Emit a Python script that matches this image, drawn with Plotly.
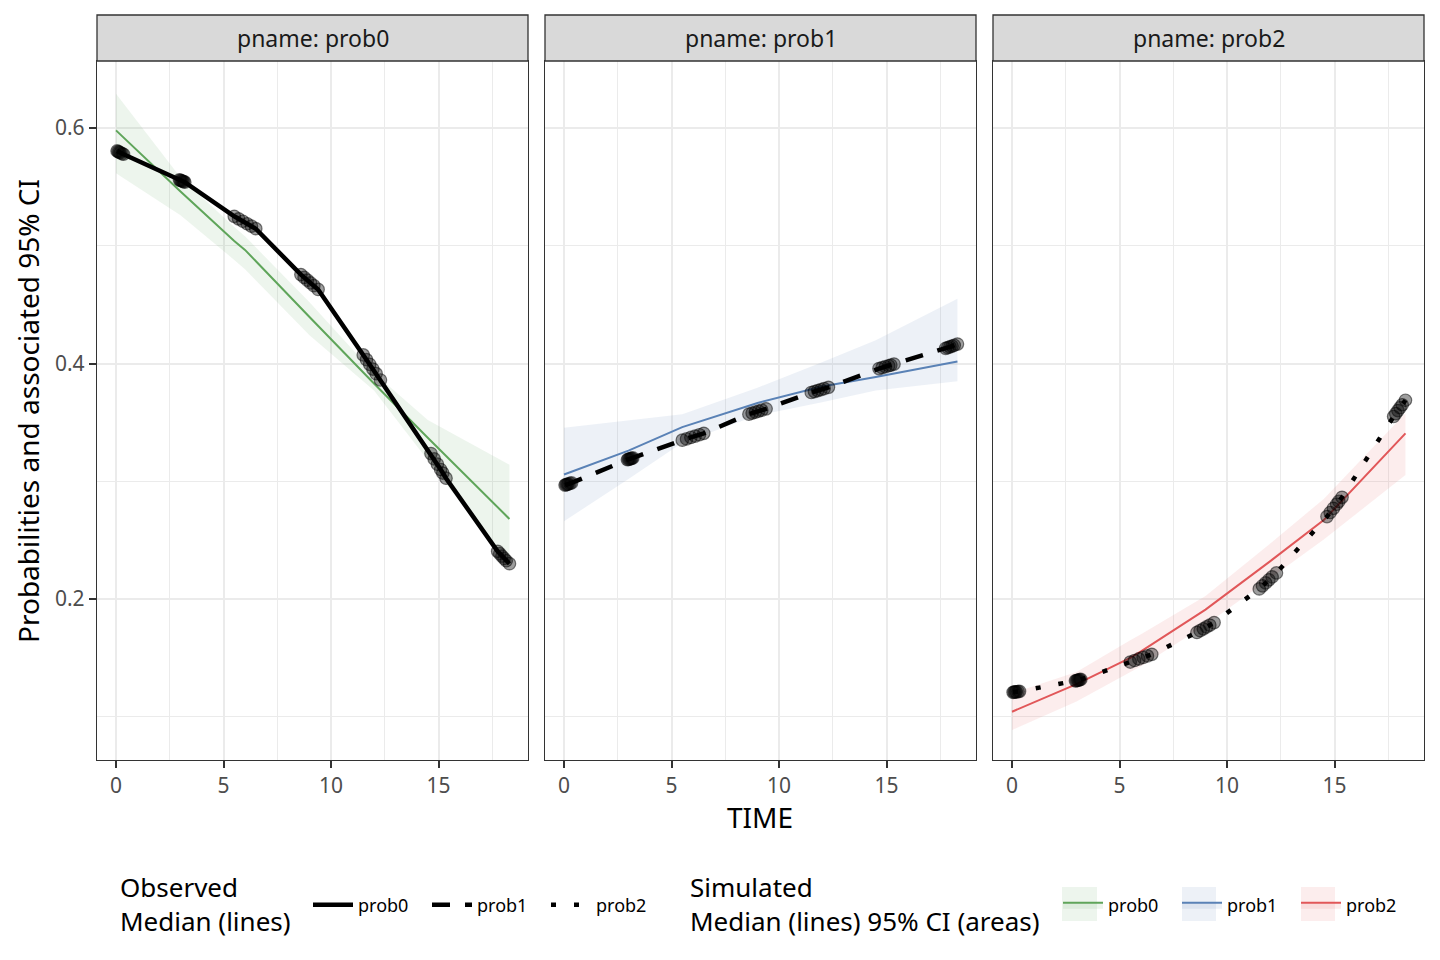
import plotly.graph_objects as go

# ─── Datos ───────────────────────────────────────────────────────────────────

panels = ["prob0", "prob1", "prob2"]

# puntos observados (7 visitas, varios sujetos por visita)
obs_time = [0.05, 0.1, 0.15, 0.2, 0.28, 0.35,
            2.95, 3.0, 3.05, 3.1, 3.15, 3.2,
            5.5, 5.7, 5.9, 6.1, 6.3, 6.5,
            8.6, 8.75, 8.9, 9.05, 9.2, 9.4,
            11.5, 11.65, 11.8, 11.95, 12.1, 12.3,
            14.65, 14.8, 14.95, 15.1, 15.2, 15.35,
            17.75, 17.85, 17.95, 18.05, 18.15, 18.3]

obs_prob0 = [0.5805, 0.580, 0.5795, 0.579, 0.5783, 0.5777,
             0.556, 0.5556, 0.5552, 0.5548, 0.5544, 0.554,
             0.525, 0.5229, 0.5208, 0.5187, 0.5166, 0.5145,
             0.4755, 0.4731, 0.4708, 0.4684, 0.4661, 0.4629,
             0.4073, 0.4033, 0.3993, 0.3953, 0.3914, 0.386,
             0.3235, 0.319, 0.3145, 0.310, 0.307, 0.3026,
             0.2405, 0.2385, 0.2365, 0.2345, 0.2325, 0.230]

obs_prob1 = [0.2968, 0.2971, 0.2974, 0.2977, 0.2982, 0.2986,
             0.3183, 0.3186, 0.3189, 0.3192, 0.3195, 0.3198,
             0.3349, 0.336, 0.3372, 0.3384, 0.3395, 0.3407,
             0.357, 0.3579, 0.3587, 0.3596, 0.3604, 0.3615,
             0.3754, 0.3762, 0.377, 0.3778, 0.3787, 0.3798,
             0.3957, 0.3965, 0.3973, 0.3981, 0.3987, 0.3995,
             0.4129, 0.4135, 0.4142, 0.4148, 0.4155, 0.4165]

obs_prob2 = [0.1208, 0.121, 0.1211, 0.1212, 0.1214, 0.1216,
             0.1305, 0.1307, 0.131, 0.1312, 0.1315, 0.1317,
             0.1465, 0.1478, 0.1491, 0.1504, 0.1517, 0.153,
             0.1716, 0.1731, 0.1747, 0.1763, 0.1779, 0.180,
             0.2086, 0.2112, 0.2137, 0.2163, 0.2188, 0.2222,
             0.270, 0.2735, 0.277, 0.2805, 0.2829, 0.2864,
             0.355, 0.3575, 0.360, 0.3625, 0.365, 0.3688]

# simulaciones: mediana e IC 95%
sim_time = [0, 3, 5.5, 6, 9, 12, 14.5, 18.3]

sim_med_prob0 = [0.598, 0.546, 0.504, 0.4965, 0.4395, 0.383, 0.337, 0.268]
sim_lo_prob0 = [0.5615, 0.526, 0.488, 0.480, 0.424, 0.377, 0.318, 0.228]
sim_hi_prob0 = [0.629, 0.558, 0.516, 0.508, 0.452, 0.392, 0.352, 0.314]

sim_med_prob1 = [0.3057, 0.326, 0.346, 0.349, 0.3665, 0.3805, 0.3885, 0.4018]
sim_lo_prob1 = [0.266, 0.302, 0.3327, 0.336, 0.356, 0.367, 0.377, 0.385]
sim_hi_prob1 = [0.3454, 0.3516, 0.357, 0.360, 0.3795, 0.401, 0.4197, 0.455]

sim_med_prob2 = [0.1043, 0.1277, 0.150, 0.1555, 0.191, 0.232, 0.267, 0.3407]
sim_lo_prob2 = [0.0887, 0.113, 0.138, 0.143, 0.178, 0.2175, 0.2505, 0.3053]
sim_hi_prob2 = [0.120, 0.138, 0.165, 0.170, 0.2025, 0.247, 0.285, 0.3577]

x_ticks = [0, 5, 10, 15]
y_ticks = [0.2, 0.4, 0.6]

# ─── Estilos ─────────────────────────────────────────────────────────────────

COLORS = {"prob0": "#5FA55A", "prob1": "#5A82B6", "prob2": "#E15759"}
FILLS = {"prob0": "rgba(95,165,90,0.11)",
         "prob1": "rgba(90,130,182,0.11)",
         "prob2": "rgba(225,87,89,0.11)"}
DASHES = {"prob0": "solid", "prob1": "18px,15px", "prob2": "5px,18px"}

FONT = "Noto Sans"
OFF = 8                      # margen del <body> de la página
W, H = 1440 - 2 * OFF, 960 - 2 * OFF
LEFT, RIGHT, TOP, BOTTOM = 97 - OFF, 1424 - OFF, 15 - OFF, 760 - OFF
STRIP_H = 46
panel_px = [(97, 528), (545, 976), (993, 1424)]
key_px = [(1062, 1097), (1182, 1216), (1301, 1335)]   # cajas de la leyenda simulada
plot_w = RIGHT - LEFT
plot_h = BOTTOM - TOP


def px_x(x):
    return (x - OFF - LEFT) / plot_w


def px_y(y):
    return (BOTTOM - (y - OFF)) / plot_h


obs = {"prob0": obs_prob0, "prob1": obs_prob1, "prob2": obs_prob2}
sim = {
    "prob0": (sim_med_prob0, sim_lo_prob0, sim_hi_prob0),
    "prob1": (sim_med_prob1, sim_lo_prob1, sim_hi_prob1),
    "prob2": (sim_med_prob2, sim_lo_prob2, sim_hi_prob2),
}

fig = go.Figure()

for i, p in enumerate(panels):
    xa = "x" if i == 0 else f"x{i + 1}"
    ya = "y" if i == 0 else f"y{i + 1}"
    med, lo, hi = sim[p]

    # banda IC 95%
    fig.add_trace(go.Scatter(
        x=sim_time + sim_time[::-1], y=hi + lo[::-1],
        fill="toself", fillcolor=FILLS[p], mode="lines",
        line=dict(width=0), hoverinfo="skip", showlegend=False,
        xaxis=xa, yaxis=ya,
    ))
    # mediana simulada
    fig.add_trace(go.Scatter(
        x=sim_time, y=med, mode="lines",
        line=dict(color=COLORS[p], width=2),
        showlegend=False, xaxis=xa, yaxis=ya,
    ))
    # mediana observada
    fig.add_trace(go.Scatter(
        x=obs_time, y=obs[p], mode="lines", name=p,
        line=dict(color="black", width=4.5, dash=DASHES[p]),
        legend="legend", legendrank=i, xaxis=xa, yaxis=ya,
    ))
    # puntos observados
    fig.add_trace(go.Scatter(
        x=obs_time, y=obs[p], mode="markers",
        marker=dict(size=12.5, color="rgba(0,0,0,0.38)",
                    line=dict(width=1.2, color="rgba(0,0,0,0.5)")),
        showlegend=False, xaxis=xa, yaxis=ya,
    ))

# entradas de leyenda para las simulaciones
for i, p in enumerate(panels):
    fig.add_trace(go.Scatter(
        x=[None], y=[None], mode="lines", name=p,
        fill="toself", fillcolor=FILLS[p],
        line=dict(color=COLORS[p], width=2),
        legend="legend2", legendrank=i,
    ))

# ─── Ejes ────────────────────────────────────────────────────────────────────

y_top = (BOTTOM - (TOP + STRIP_H)) / plot_h

axis_common = dict(
    showline=True, mirror=True, linecolor="#333333", linewidth=1.3,
    gridcolor="#EBEBEB", gridwidth=1.8, zeroline=False,
    ticks="outside", ticklen=7, tickcolor="#333333", tickwidth=1.6,
    tickfont=dict(family=FONT, size=21, color="#4D4D4D"),
)

layout_axes = {}
for i, (a, b) in enumerate(panel_px):
    sfx = "" if i == 0 else str(i + 1)
    layout_axes[f"xaxis{sfx}"] = dict(
        axis_common,
        domain=[px_x(a), px_x(b)],
        range=[-0.884, 19.163], tickvals=x_ticks, anchor=f"y{sfx}",
        minor=dict(dtick=2.5, tick0=0, showgrid=True, gridcolor="#EBEBEB",
                   gridwidth=1.0, ticks=""),
    )
    yax = dict(
        axis_common,
        domain=[0, y_top], range=[0.0633, 0.6569], tickvals=y_ticks,
        anchor=f"x{sfx}",
        minor=dict(dtick=0.1, tick0=0, showgrid=True, gridcolor="#EBEBEB",
                   gridwidth=1.0, ticks=""),
    )
    if i > 0:
        yax.update(matches="y", showticklabels=False, ticks="")
    layout_axes[f"yaxis{sfx}"] = yax

# ─── Tiras de facetas y textos ───────────────────────────────────────────────

shapes, annotations = [], []
for i, (a, b) in enumerate(panel_px):
    x0, x1 = px_x(a), px_x(b)
    shapes.append(dict(type="rect", xref="paper", yref="paper",
                       x0=x0, x1=x1, y0=y_top, y1=1,
                       fillcolor="#D9D9D9", line=dict(color="#333333", width=1.3)))
    annotations.append(dict(text=f"pname: {panels[i]}", xref="paper", yref="paper",
                            x=(x0 + x1) / 2, y=(y_top + 1) / 2,
                            xanchor="center", yanchor="middle", showarrow=False,
                            font=dict(family=FONT, size=23, color="#1A1A1A")))

# fondo de las claves de la leyenda simulada (como en ggplot)
for (a, b), p in zip(key_px, panels):
    shapes.append(dict(type="rect", xref="paper", yref="paper", layer="below",
                       x0=px_x(a), x1=px_x(b), y0=px_y(921), y1=px_y(887),
                       fillcolor=FILLS[p], line=dict(width=0)))


def label(text, x, y, size, xanchor="left", angle=0):
    annotations.append(dict(text=text, xref="paper", yref="paper",
                            x=px_x(x), y=px_y(y), xanchor=xanchor, yanchor="middle",
                            align="left", textangle=angle, showarrow=False,
                            font=dict(family=FONT, size=size, color="black")))


label("TIME", 760, 817, 28, xanchor="center")
label("Probabilities and associated 95% CI", 28, 411, 28, xanchor="center", angle=-90)
label("Observed<br>Median (lines)", 118, 904, 26)
label("Simulated<br>Median (lines) 95% CI (areas)", 688, 904, 26)

legend_common = dict(
    orientation="h", xref="container", yref="container",
    yanchor="middle", xanchor="left",
    font=dict(family=FONT, size=18, color="black"),
    entrywidth=64, entrywidthmode="pixels", itemwidth=40,
    bgcolor="rgba(0,0,0,0)",
)

fig.update_layout(
    width=W, height=H,
    margin=dict(l=LEFT, r=W - RIGHT, t=TOP, b=H - BOTTOM),
    plot_bgcolor="white", paper_bgcolor="white",
    font=dict(family=FONT),
    shapes=shapes, annotations=annotations,
    legend=dict(legend_common, x=(308 - OFF) / W, y=1 - (905 - OFF) / H),
    legend2=dict(legend_common, x=(1058 - OFF) / W, y=1 - (905 - OFF) / H),
    hovermode="closest",
    **layout_axes,
)

fig.write_html("out.html")
